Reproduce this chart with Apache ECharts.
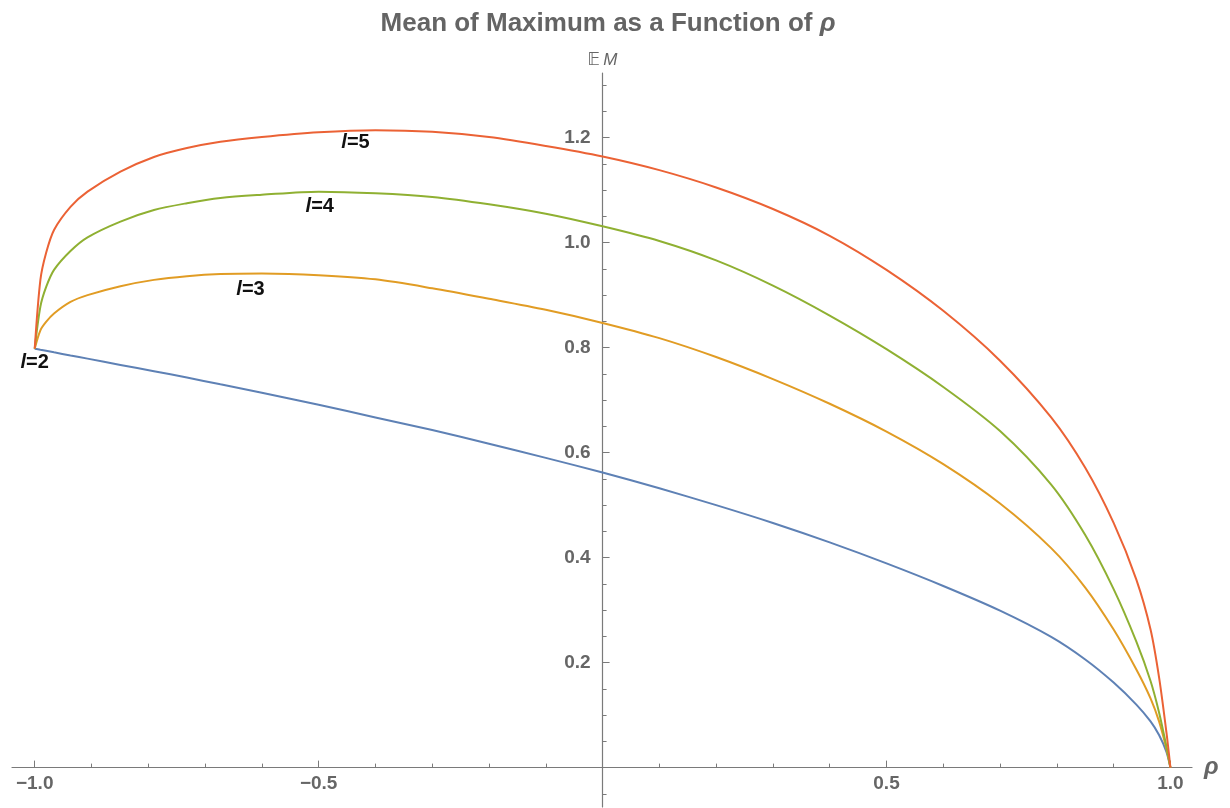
<!DOCTYPE html>
<html>
<head>
<meta charset="utf-8">
<title>Mean of Maximum as a Function of rho</title>
<script src="https://cdn.jsdelivr.net/npm/echarts@6/dist/echarts.min.js"></script>
<style>
  html, body { margin: 0; padding: 0; background: #fff; }
  #main { width: 1230px; height: 808px; }
</style>
</head>
<body>
<div id="main"></div>
<script>
var rho = [-1, -0.99, -0.98, -0.966, -0.937, -0.907, -0.849, -0.79, -0.732, -0.673,
  -0.6, -0.5, -0.4, -0.3, -0.2, -0.1, 0, 0.1, 0.2, 0.3, 0.4, 0.5, 0.6, 0.7,
  0.79, 0.85, 0.9, 0.94, 0.965, 0.98, 0.993, 1];

// E M for each l
var emL2 = [0.798, 0.796, 0.794, 0.791, 0.785, 0.779, 0.767, 0.755, 0.743, 0.730,
  0.714, 0.691, 0.667, 0.643, 0.617, 0.590, 0.562, 0.532, 0.500, 0.466, 0.429, 0.389, 0.346, 0.299,
  0.249, 0.206, 0.162, 0.120, 0.088, 0.062, 0.030, 0];
var emL3 = [0.798, 0.833, 0.849, 0.865, 0.887, 0.900, 0.917, 0.929, 0.936, 0.940,
  0.941, 0.938, 0.930, 0.913, 0.893, 0.872, 0.847, 0.818, 0.782, 0.740, 0.693, 0.640, 0.578, 0.503,
  0.418, 0.343, 0.263, 0.187, 0.132, 0.088, 0.036, 0];
var emL4 = [0.798, 0.878, 0.915, 0.948, 0.984, 1.010, 1.040, 1.062, 1.075, 1.085,
  1.091, 1.097, 1.094, 1.087, 1.073, 1.055, 1.031, 1.003, 0.966, 0.918, 0.861, 0.797, 0.725, 0.641,
  0.539, 0.443, 0.340, 0.240, 0.165, 0.105, 0.040, 0];
var emL5 = [0.798, 0.929, 0.980, 1.024, 1.068, 1.097, 1.135, 1.163, 1.180, 1.192,
  1.201, 1.210, 1.214, 1.211, 1.201, 1.184, 1.164, 1.138, 1.105, 1.064, 1.013, 0.948, 0.870, 0.775,
  0.667, 0.571, 0.466, 0.358, 0.263, 0.172, 0.067, 0];

var curveL = [2, 3, 4, 5];
var curveColors = ['#5e81b5', '#e19c24', '#8fb032', '#eb6235'];
// where the l=.. labels sit
var labelRho = [-1.0, -0.62, -0.498, -0.435];
var labelEM = [0.771, 0.911, 1.068, 1.190];

// ticks
var xTicks = [-1, -0.5, 0.5, 1];
var xMinorTicks = [-0.9, -0.8, -0.7, -0.6, -0.4, -0.3, -0.2, -0.1, 0.1, 0.2, 0.3, 0.4, 0.6, 0.7, 0.8, 0.9];
var yTicks = [0.2, 0.4, 0.6, 0.8, 1.0, 1.2];
var yMinorTicks = [-0.05, 0.05, 0.1, 0.15, 0.25, 0.3, 0.35, 0.45, 0.5, 0.55, 0.65, 0.7, 0.75,
  0.85, 0.9, 0.95, 1.05, 1.1, 1.15, 1.25, 1.3];

var allEM = [emL2, emL3, emL4, emL5];

var axisColor = '#7a7a7a';
var labelColor = '#666666';
var fontFam = '"Liberation Sans", Arial, sans-serif';

function pairs(xs, ys) {
  var out = [];
  for (var i = 0; i < xs.length; i++) out.push([xs[i], ys[i]]);
  return out;
}

function tickFmt(v) {
  return v < 0 ? '\u2212' + (-v).toFixed(1) : v.toFixed(1);
}

var chart = echarts.init(document.getElementById('main'), null, { renderer: 'canvas' });

var series = [];
for (var k = 0; k < curveL.length; k++) {
  series.push({
    name: 'l=' + curveL[k],
    type: 'line',
    data: pairs(rho, allEM[k]),
    showSymbol: false,
    smooth: 0.3,
    lineStyle: { color: curveColors[k], width: 2 },
    itemStyle: { color: curveColors[k] },
    markPoint: {
      symbol: 'circle',
      symbolSize: 0,
      silent: true,
      data: [{ coord: [labelRho[k], labelEM[k]] }],
      label: {
        show: true,
        position: 'inside',
        formatter: '{i|l}{b|=' + curveL[k] + '}',
        rich: {
          i: { fontStyle: 'italic', fontWeight: 'bold', fontSize: 20, color: '#111', fontFamily: fontFam },
          b: { fontWeight: 'bold', fontSize: 20, color: '#111', fontFamily: fontFam }
        }
      }
    }
  });
}

var xMin = -1.04, xMax = 1.038;
var yMin = -0.075, yMax = 1.323;
var gridL = 12, gridR = 38, gridT = 73, gridB = 1;
// move the axes onto the zero lines of the other axis
var plotW = 1230 - gridL - gridR;
var plotH = 808 - gridT - gridB;
var yAxisOffset = -(plotW * (0 - xMin) / (xMax - xMin));
var xAxisOffset = -(plotH * (0 - yMin) / (yMax - yMin));

var option = {
  animation: false,
  backgroundColor: '#ffffff',
  title: {
    text: '{t|Mean of Maximum as a Function of }{r|\u03c1}',
    left: 603,
    top: 6,
    textAlign: 'center',
    textStyle: {
      rich: {
        t: { fontSize: 26, fontWeight: 'bold', color: '#646464', fontFamily: fontFam },
        r: { fontSize: 26, fontWeight: 'bold', fontStyle: 'italic', color: '#646464', fontFamily: fontFam }
      }
    }
  },
  grid: {
    left: gridL, right: gridR, top: gridT, bottom: gridB,
    containLabel: false,
    outerBoundsMode: 'none'
  },
  xAxis: [
    {
      type: 'value', min: xMin, max: xMax, position: 'bottom', offset: xAxisOffset,
      name: '\u03c1', nameLocation: 'end', nameGap: 12,
      nameTextStyle: { fontSize: 24, fontStyle: 'italic', fontWeight: 'bold', color: labelColor, fontFamily: fontFam },
      axisLine: { onZero: false, lineStyle: { color: axisColor, width: 1.2 } },
      axisTick: { inside: true, length: 7, customValues: xTicks, lineStyle: { color: axisColor } },
      axisLabel: { customValues: xTicks, formatter: tickFmt, margin: 7, fontSize: 19, fontWeight: 'bold', color: labelColor, fontFamily: fontFam },
      splitLine: { show: false }
    },
    {
      type: 'value', min: xMin, max: xMax, position: 'bottom', offset: xAxisOffset,
      axisLine: { onZero: false, show: false },
      axisTick: { inside: true, length: 4, customValues: xMinorTicks, lineStyle: { color: axisColor } },
      axisLabel: { show: false },
      splitLine: { show: false }
    }
  ],
  yAxis: [
    {
      type: 'value', min: yMin, max: yMax, position: 'left', offset: yAxisOffset,
      name: '{e|\ud835\udd3c} {m|M}', nameLocation: 'end', nameGap: 4,
      nameTextStyle: {
        align: 'center',
        rich: {
          e: { fontSize: 17, color: labelColor, fontFamily: '"DejaVu Sans", sans-serif' },
          m: { fontSize: 17, fontStyle: 'italic', color: labelColor, fontFamily: fontFam }
        }
      },
      axisLine: { onZero: false, lineStyle: { color: axisColor, width: 1.2 } },
      axisTick: { inside: true, length: 7, customValues: yTicks, lineStyle: { color: axisColor } },
      axisLabel: { customValues: yTicks, formatter: tickFmt, margin: 12, fontSize: 19, fontWeight: 'bold', color: labelColor, fontFamily: fontFam },
      splitLine: { show: false }
    },
    {
      type: 'value', min: yMin, max: yMax, position: 'left', offset: yAxisOffset,
      axisLine: { onZero: false, show: false },
      axisTick: { inside: true, length: 4, customValues: yMinorTicks, lineStyle: { color: axisColor } },
      axisLabel: { show: false },
      splitLine: { show: false }
    }
  ],
  series: series
};

chart.setOption(option);
</script>
</body>
</html>
